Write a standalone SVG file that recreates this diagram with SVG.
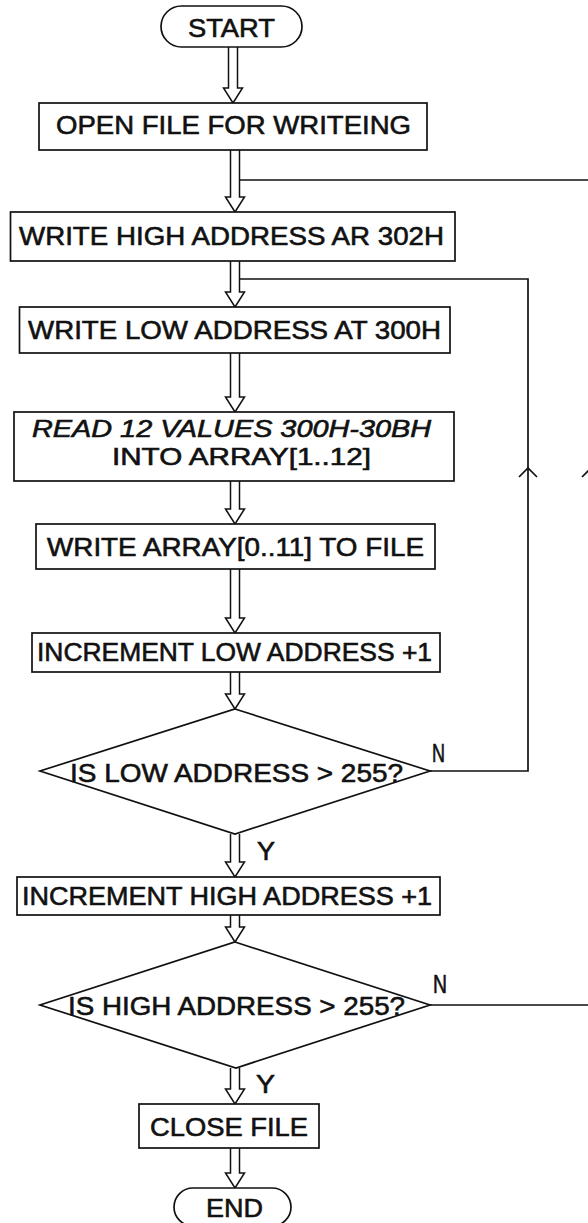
<svg xmlns="http://www.w3.org/2000/svg" width="588" height="1223" viewBox="0 0 588 1223">
  <style>
    .box { fill: #fff; stroke: #111; stroke-width: 1.7; }
    .lbl { font-family: "Liberation Sans", Arial, sans-serif; font-size: 26px; fill: #111; stroke: #111; stroke-width: 0.6; }
    .sm { font-size: 24px; }
    .ital { font-style: italic; }
    .yn { font-family: "Liberation Sans", Arial, sans-serif; font-size: 25px; fill: #111; stroke: #111; stroke-width: 0.6; }
    .flow { fill: #fff; stroke: #111; stroke-width: 1.5; stroke-linejoin: miter; }
    .loop { fill: none; stroke: #111; stroke-width: 1.7; }
  </style>

  <rect width="588" height="1223" fill="#fff"/>

  <!-- connectors: hollow double-line flow arrows and the two return loops -->
  <g id="connectors">
    <path class="flow" d="M228.5,47 V88 H223.5 L233,103 L242.5,88 H237.5 V47"/>
    <path class="flow" d="M230.5,150 V197 H225.5 L235,212 L244.5,197 H239.5 V150"/>
    <path class="flow" d="M230.5,261 V292 H225.5 L235,307 L244.5,292 H239.5 V261"/>
    <path class="flow" d="M230.5,353 V397 H225.5 L235,412 L244.5,397 H239.5 V353"/>
    <path class="flow" d="M230.5,481 V509 H225.5 L235,524 L244.5,509 H239.5 V481"/>
    <path class="flow" d="M230.5,569 V618 H225.5 L235,633 L244.5,618 H239.5 V569"/>
    <path class="flow" d="M230.5,672 V694 H225.5 L235,709 L244.5,694 H239.5 V672"/>
    <path class="flow" d="M230.5,834 V862 H225.5 L235,877 L244.5,862 H239.5 V834"/>
    <path class="flow" d="M230.5,915 V927 H225.5 L235,942 L244.5,927 H239.5 V915"/>
    <path class="flow" d="M230.5,1068 V1089 H225.5 L235,1104 L244.5,1089 H239.5 V1068"/>
    <path class="flow" d="M230.5,1148 V1173 H225.5 L235,1188 L244.5,1173 H239.5 V1148"/>

    <!-- inner loop: low address not yet past 255 -->
    <path class="loop" d="M430,771 H528 V279 H239.5"/>
    <path class="loop" d="M519,477 L528,468 L537,477"/>
    <!-- outer loop: high address not yet past 255 -->
    <path class="loop" d="M430,1005 H591 V180 H239.5"/>
    <path class="loop" d="M582,477 L591,468 L600,477"/>

    <text class="yn" x="257" y="860" textLength="18" lengthAdjust="spacingAndGlyphs">Y</text>
    <text class="yn" x="256" y="1093" textLength="19" lengthAdjust="spacingAndGlyphs">Y</text>
    <text class="yn" x="432" y="762" textLength="13" lengthAdjust="spacingAndGlyphs">N</text>
    <text class="yn" x="433" y="993" textLength="14" lengthAdjust="spacingAndGlyphs">N</text>
  </g>

  <g id="start">
    <rect class="box" x="161" y="6" width="141" height="41" rx="20.5"/>
    <text class="lbl" x="188" y="37" textLength="87" lengthAdjust="spacingAndGlyphs">START</text>
  </g>

  <g id="open-file">
    <rect class="box" x="39" y="103" width="388" height="47"/>
    <text class="lbl" x="56" y="134" textLength="355" lengthAdjust="spacingAndGlyphs">OPEN FILE FOR WRITEING</text>
  </g>

  <g id="write-high">
    <rect class="box" x="10.5" y="212" width="444.5" height="49"/>
    <text class="lbl" x="19" y="245" textLength="425" lengthAdjust="spacingAndGlyphs">WRITE HIGH ADDRESS AR 302H</text>
  </g>

  <g id="write-low">
    <rect class="box" x="19.5" y="307" width="430.5" height="46"/>
    <text class="lbl" x="28" y="339" textLength="413" lengthAdjust="spacingAndGlyphs">WRITE LOW ADDRESS AT 300H</text>
  </g>

  <g id="read-values">
    <rect class="box" x="14" y="412" width="440" height="69"/>
    <text class="lbl sm ital" x="32" y="437" textLength="399" lengthAdjust="spacingAndGlyphs">READ 12 VALUES 300H-30BH</text>
    <text class="lbl sm" x="112" y="465" textLength="259" lengthAdjust="spacingAndGlyphs">INTO ARRAY[1..12]</text>
  </g>

  <g id="write-array">
    <rect class="box" x="36" y="524" width="399" height="45"/>
    <text class="lbl" x="47" y="556" textLength="377" lengthAdjust="spacingAndGlyphs">WRITE ARRAY[0..11] TO FILE</text>
  </g>

  <g id="inc-low">
    <rect class="box" x="32" y="633" width="408" height="39"/>
    <text class="lbl" x="37" y="661" textLength="395" lengthAdjust="spacingAndGlyphs">INCREMENT LOW ADDRESS +1</text>
  </g>

  <g id="low-check">
    <polygon class="box" points="235,709 430,771 235,834 40,771"/>
    <text class="lbl" x="70" y="782" textLength="333" lengthAdjust="spacingAndGlyphs">IS LOW ADDRESS &gt; 255?</text>
  </g>

  <g id="inc-high">
    <rect class="box" x="17" y="877" width="423" height="38"/>
    <text class="lbl" x="22" y="905" textLength="410" lengthAdjust="spacingAndGlyphs">INCREMENT HIGH ADDRESS +1</text>
  </g>

  <g id="high-check">
    <polygon class="box" points="235,942 430,1005 236,1068 40,1005"/>
    <text class="lbl" x="68" y="1015" textLength="337" lengthAdjust="spacingAndGlyphs">IS HIGH ADDRESS &gt; 255?</text>
  </g>

  <g id="close-file">
    <rect class="box" x="139" y="1104" width="180" height="44"/>
    <text class="lbl" x="150" y="1136" textLength="158" lengthAdjust="spacingAndGlyphs">CLOSE FILE</text>
  </g>

  <g id="end">
    <rect class="box" x="174" y="1188" width="117" height="38" rx="19"/>
    <text class="lbl" x="206" y="1217" textLength="57" lengthAdjust="spacingAndGlyphs">END</text>
  </g>
</svg>
